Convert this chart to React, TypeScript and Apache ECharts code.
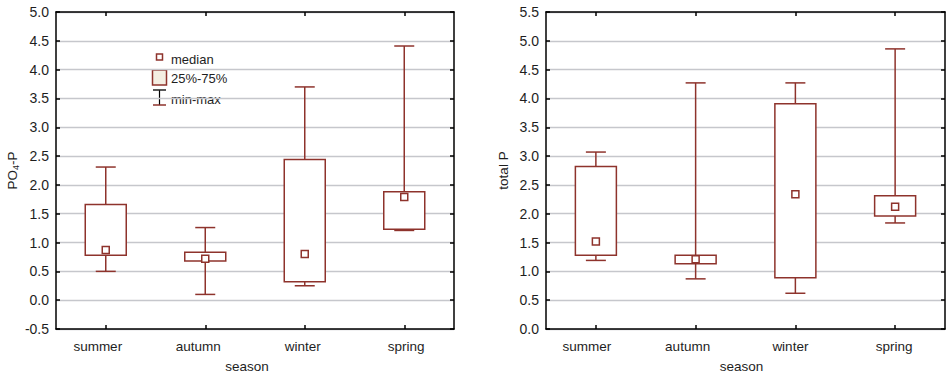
import React, { useEffect, useRef } from "react";
import * as echarts from "echarts";

const categories = ["summer", "autumn", "winter", "spring"];

// PO4-P (left panel)
const po4Min = [0.5, 0.1, 0.25, 1.21];
const po4Q1 = [0.78, 0.68, 0.32, 1.23];
const po4Median = [0.87, 0.72, 0.8, 1.79];
const po4Q3 = [1.66, 0.83, 2.44, 1.88];
const po4Max = [2.31, 1.26, 3.7, 4.41];

// total P (right panel)
const totMin = [1.19, 0.87, 0.62, 1.84];
const totQ1 = [1.28, 1.13, 0.89, 1.96];
const totMedian = [1.52, 1.21, 2.34, 2.12];
const totQ3 = [2.82, 1.28, 3.91, 2.31];
const totMax = [3.07, 4.27, 4.27, 4.86];

const legendLabels = ["median", "25%-75%", "min-max"];

const RED = "#8e332c";
const FONT = "'Liberation Sans', Arial, sans-serif";
const TEXT = "#1e1e1e";

function buildData(mn: number[], q1: number[], md: number[], q3: number[], mx: number[]) {
  return categories.map((_, i) => [i, mn[i], q1[i], md[i], q3[i], mx[i]]);
}

function renderBox(params: any, api: any) {
  const x = api.value(0);
  const pMin = api.coord([x, api.value(1)]);
  const pQ1 = api.coord([x, api.value(2)]);
  const pMd = api.coord([x, api.value(3)]);
  const pQ3 = api.coord([x, api.value(4)]);
  const pMax = api.coord([x, api.value(5)]);
  const cx = pMin[0];
  const bw = 41;
  const cw = 20;
  const ms = 7;
  const line = { stroke: RED, lineWidth: 1.5 };
  return {
    type: "group",
    children: [
      { type: "line", shape: { x1: cx, y1: pMax[1], x2: cx, y2: pQ3[1] }, style: line },
      { type: "line", shape: { x1: cx, y1: pQ1[1], x2: cx, y2: pMin[1] }, style: line },
      { type: "line", shape: { x1: cx - cw / 2, y1: pMax[1], x2: cx + cw / 2, y2: pMax[1] }, style: line },
      { type: "line", shape: { x1: cx - cw / 2, y1: pMin[1], x2: cx + cw / 2, y2: pMin[1] }, style: line },
      {
        type: "rect",
        shape: { x: cx - bw / 2, y: pQ3[1], width: bw, height: pQ1[1] - pQ3[1] },
        style: { fill: "#ffffff", stroke: RED, lineWidth: 1.5 },
      },
      {
        type: "rect",
        shape: { x: cx - ms / 2, y: pMd[1] - ms / 2, width: ms, height: ms },
        style: { fill: "#ffffff", stroke: RED, lineWidth: 1.5 },
      },
    ],
  };
}

// horizontal nudges of the category labels (px, negative = left), as in the original
function labelRich(shifts: number[]) {
  const rich: any = {};
  shifts.forEach((d, i) => {
    rich["c" + i] = {
      color: TEXT,
      fontSize: 13.5,
      fontFamily: FONT,
      padding: d < 0 ? [0, -2 * d, 0, 0] : [0, 0, 0, 2 * d],
    };
  });
  return rich;
}

function makeAxes(gridIndex: number, min: number, max: number, name: any, shifts: number[], nameShift: number) {
  const tick = { show: true, inside: true, length: 4, lineStyle: { color: "#000", width: 1.5 } };
  const axisLine = { show: true, onZero: false, lineStyle: { color: "#000", width: 1.5 } };
  const xAxes = [
    {
      type: "category",
      gridIndex,
      data: categories,
      position: "bottom",
      axisLine,
      axisTick: { ...tick, alignWithLabel: true },
      axisLabel: {
        color: TEXT,
        fontSize: 13.5,
        fontFamily: FONT,
        margin: 10,
        formatter: (v: string, i: number) => `{c${i}|${v}}`,
        rich: labelRich(shifts),
      },
      name: "season",
      nameLocation: "middle",
      nameGap: 30,
      nameTextStyle: { color: TEXT, fontSize: 13.5, fontFamily: FONT, padding: [0, -2 * nameShift, 0, 0] },
      splitLine: { show: false },
    },
    {
      type: "category",
      gridIndex,
      data: categories,
      position: "top",
      axisLine,
      axisTick: { ...tick, alignWithLabel: true },
      axisLabel: { show: false },
      splitLine: { show: false },
    },
  ];
  const yAxes = [
    {
      type: "value",
      gridIndex,
      min,
      max,
      interval: 0.5,
      position: "left",
      axisLine,
      axisTick: tick,
      axisLabel: {
        color: TEXT,
        fontSize: 14,
        fontFamily: FONT,
        margin: 7,
        formatter: (v: number) => v.toFixed(1),
      },
      splitLine: { show: true, lineStyle: { color: "#c6c7cc", width: 1.3 } },
      name,
      nameLocation: "middle",
      nameGap: 36,
      nameRotate: 90,
      nameTextStyle: {
        color: TEXT,
        fontSize: 13.5,
        fontFamily: FONT,
        rich: {
          sub: { fontSize: 9, fontFamily: FONT, color: TEXT, verticalAlign: "bottom", padding: [6, 0, 0, 0] },
        },
      },
    },
    {
      type: "value",
      gridIndex,
      min,
      max,
      interval: 0.5,
      position: "right",
      axisLine,
      axisTick: tick,
      axisLabel: { show: false },
      splitLine: { show: false },
    },
  ];
  return { xAxes, yAxes };
}

export default function App() {
  const ref = useRef<HTMLDivElement>(null);
  useEffect(() => {
    if (!ref.current) return;
    const chart = echarts.init(ref.current, undefined, { renderer: "svg" });
    const a = makeAxes(0, -0.5, 5.0, "PO{sub|4}-P", [-8, -7, -2, 2], -8);
    const b = makeAxes(1, 0, 5.5, "total P", [-9, -8, -5, -1], -4);
    const legendX = 152;
    const option: any = {
      animation: false,
      backgroundColor: "#ffffff",
      grid: [
        { left: 56, top: 12, width: 398, height: 317 },
        { left: 546, top: 12, width: 399, height: 317 },
      ],
      xAxis: [...a.xAxes, ...b.xAxes],
      yAxis: [...a.yAxes, ...b.yAxes],
      series: [
        {
          type: "custom",
          xAxisIndex: 0,
          yAxisIndex: 0,
          renderItem: renderBox,
          encode: { x: 0, y: [1, 2, 3, 4, 5] },
          data: buildData(po4Min, po4Q1, po4Median, po4Q3, po4Max),
        },
        {
          type: "custom",
          xAxisIndex: 2,
          yAxisIndex: 2,
          renderItem: renderBox,
          encode: { x: 0, y: [1, 2, 3, 4, 5] },
          data: buildData(totMin, totQ1, totMedian, totQ3, totMax),
        },
      ],
      graphic: [
        { type: "rect", shape: { x: legendX + 4.5, y: 54, width: 6, height: 6 }, style: { fill: "#fff", stroke: RED, lineWidth: 1.5 } },
        { type: "rect", shape: { x: legendX + 0.5, y: 70, width: 14, height: 15 }, style: { fill: "#f4eee2", stroke: RED, lineWidth: 1.5 } },
        { type: "line", shape: { x1: legendX + 7.5, y1: 90, x2: legendX + 7.5, y2: 105 }, style: { stroke: "#000", lineWidth: 1.2 } },
        { type: "line", shape: { x1: legendX + 1, y1: 90, x2: legendX + 14, y2: 90 }, style: { stroke: "#222", lineWidth: 1.5 } },
        { type: "line", shape: { x1: legendX + 1, y1: 105, x2: legendX + 14, y2: 105 }, style: { stroke: RED, lineWidth: 1.5 } },
        { type: "text", x: 171, y: 59.5, style: { text: legendLabels[0], fill: TEXT, fontSize: 13, fontFamily: FONT, verticalAlign: "middle" } },
        { type: "text", x: 171, y: 78, style: { text: legendLabels[1], fill: TEXT, fontSize: 13, fontFamily: FONT, verticalAlign: "middle" } },
        { type: "text", x: 171, y: 99, style: { text: legendLabels[2], fill: TEXT, fontSize: 13, fontFamily: FONT, verticalAlign: "middle" } },
      ],
    };
    chart.setOption(option);
    return () => chart.dispose();
  }, []);
  return <div ref={ref} style={{ position: "fixed", left: 0, top: 0, width: 947, height: 379 }} />;
}
